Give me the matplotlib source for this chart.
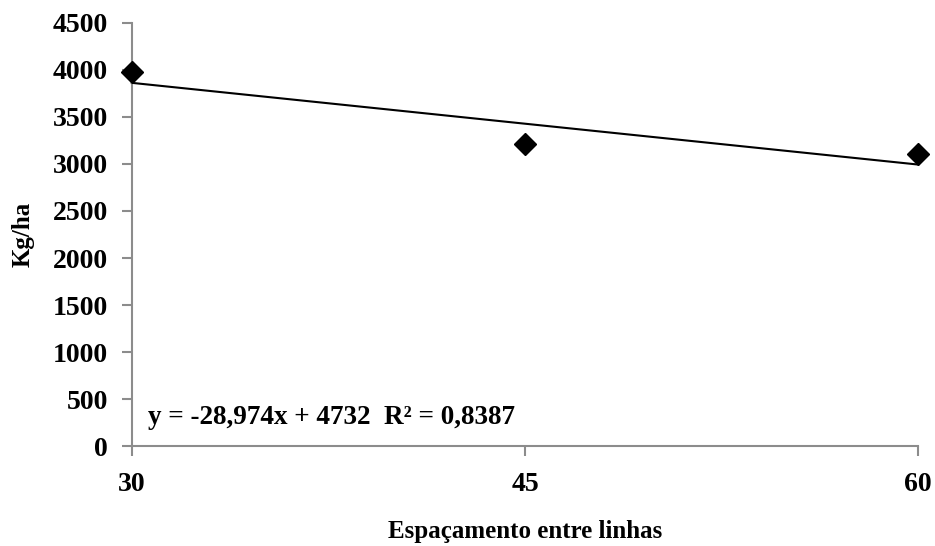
import numpy as np
import matplotlib.pyplot as plt

# data
espacamento = [30, 45, 60]
produtividade = [3973, 3208, 3104]
x_ticks = [30, 45, 60]
y_ticks = [0, 500, 1000, 1500, 2000, 2500, 3000, 3500, 4000, 4500]

plt.rcParams['font.family'] = ['Liberation Serif', 'DejaVu Serif']
plt.rcParams['font.weight'] = 'bold'

fig = plt.figure(figsize=(9.35, 5.46), dpi=100)
ax = fig.add_axes([0.141, 0.183, 0.841, 0.775])

# linear trend
coef = np.polyfit(espacamento, produtividade, 1)
xs = np.array([espacamento[0], espacamento[-1]])
ax.plot(xs, np.polyval(coef, xs), color='black', lw=1.5, clip_on=False, zorder=2)

ax.plot(espacamento, produtividade, linestyle='none', marker='D', markersize=11,
        color='black', clip_on=False, zorder=3)

ax.set_xlim(30, 60)
ax.set_ylim(0, 4500)
ax.set_xticks(x_ticks)
ax.set_yticks(y_ticks)

gray = '#8c8c8c'
for side in ['top', 'right']:
    ax.spines[side].set_visible(False)
for side in ['left', 'bottom']:
    ax.spines[side].set_color(gray)
    ax.spines[side].set_linewidth(1.5)

ax.tick_params(axis='y', colors=gray, labelcolor='black', labelsize=20,
               length=7, width=1.5, pad=10)
ax.tick_params(axis='x', colors=gray, labelcolor='black', labelsize=20,
               length=7, width=1.5, pad=12)
for lab in ax.get_xticklabels() + ax.get_yticklabels():
    lab.set_fontweight('bold')

ax.set_xlabel('Espaçamento entre linhas', fontsize=18, fontweight='bold', labelpad=16)
ax.set_ylabel('Kg/ha', fontsize=18, fontweight='bold', labelpad=13)

ax.text(30.6, 300, 'y = -28,974x + 4732  R² = 0,8387', fontsize=19.5,
        fontweight='bold', ha='left', va='center')

fig.savefig('out.png', dpi=100)
